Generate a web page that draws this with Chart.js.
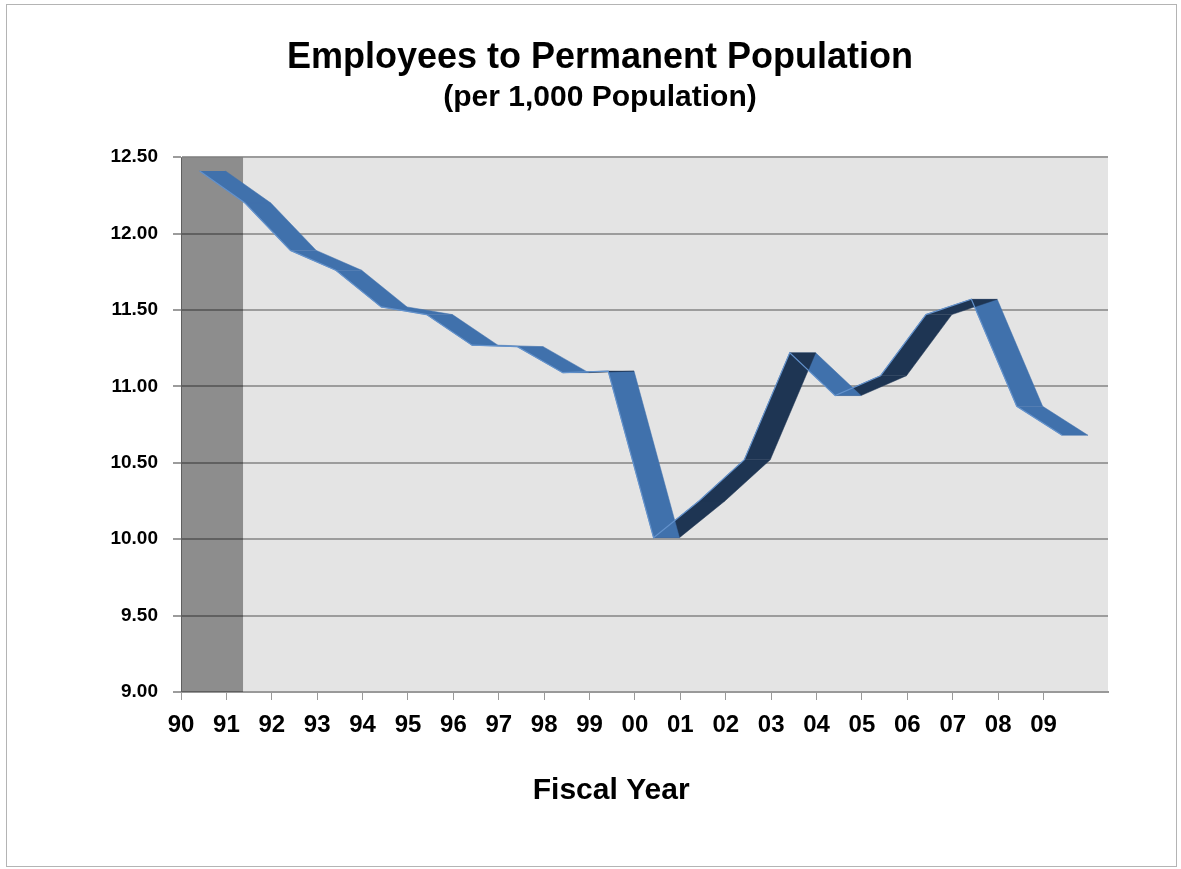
<!DOCTYPE html>
<html>
<head>
<meta charset="utf-8">
<script src="https://cdn.jsdelivr.net/npm/chart.js@4.4.1/dist/chart.umd.min.js"></script>
<style>
  html, body { margin: 0; padding: 0; background: #fff; }
  #wrap { width: 1181px; height: 869px; }
</style>
</head>
<body>
<div id="wrap"><canvas id="chart" width="1181" height="869"></canvas></div>
<script>
// fiscal years (category labels)
const years = ['90', '91', '92', '93', '94', '95', '96', '97', '98', '99',
               '00', '01', '02', '03', '04', '05', '06', '07', '08', '09'];
// employees per 1,000 permanent population
const ratio = [12.41, 12.20, 11.89, 11.76, 11.52, 11.47, 11.27, 11.26, 11.09, 11.10,
               10.01, 10.25, 10.52, 11.22, 10.94, 11.07, 11.47, 11.57, 10.87, 10.68];
const yTicks = [9.00, 9.50, 10.00, 10.50, 11.00, 11.50, 12.00, 12.50];
// shaded span on the category axis (in category units)
const shadedSpan = [0, 1.37];

const FRONT = 0.41;   // 3d ribbon: front edge offset from tick
const DEPTH = 0.57;   // 3d ribbon depth
const LIGHT = '#4071ac';
const DARK = '#1e3553';
const FONT = 'Liberation Sans, Arial, sans-serif';

// ribbon pieces, one quad per step between years
const ribbon = [];
for (let i = 0; i < ratio.length - 1; i++) {
  const a = ratio[i], b = ratio[i + 1];
  ribbon.push({
    data: [
      { x: i + FRONT, y: a },
      { x: i + 1 + FRONT, y: b },
      { x: i + 1 + FRONT + DEPTH, y: b },
      { x: i + FRONT + DEPTH, y: a }
    ],
    fill: 'shape',
    backgroundColor: b > a ? DARK : LIGHT,
    borderColor: b > a ? DARK : LIGHT,
    borderWidth: 0.5,
    pointRadius: 0,
    tension: 0,
    order: 0
  });
}

const frontEdge = {
  data: ratio.map((v, i) => ({ x: i + FRONT, y: v })),
  fill: false,
  borderColor: '#6392cc',
  borderWidth: 1.2,
  pointRadius: 0,
  tension: 0,
  order: 0
};

const band = {
  data: [{ x: shadedSpan[0], y: yTicks[yTicks.length - 1] }, { x: shadedSpan[1], y: yTicks[yTicks.length - 1] }],
  fill: 'start',
  backgroundColor: 'rgba(0,0,0,0.38)',
  borderWidth: 0,
  pointRadius: 0,
  order: 1
};

const chromePlugin = {
  id: 'chrome',
  beforeDraw(chart) {
    const { ctx, chartArea: a } = chart;
    ctx.save();
    ctx.fillStyle = '#fff';
    ctx.fillRect(0, 0, chart.width, chart.height);
    ctx.strokeStyle = '#b4b4b4';
    ctx.lineWidth = 1;
    ctx.strokeRect(6.5, 4.5, 1170, 862);
    ctx.fillStyle = '#e4e4e4';
    ctx.fillRect(a.left, a.top, a.right - a.left, a.bottom - a.top);
    ctx.restore();
  }
};

new Chart(document.getElementById('chart'), {
  type: 'line',
  data: { datasets: [frontEdge, ...ribbon, band] },
  plugins: [chromePlugin],
  options: {
    responsive: false,
    animation: false,
    layout: { padding: { left: 92, right: 73, top: 0, bottom: 0 } },
    plugins: {
      legend: { display: false },
      tooltip: { enabled: false },
      title: {
        display: true,
        text: 'Employees to Permanent Population',
        color: '#000',
        font: { family: FONT, size: 36, weight: 'bold' },
        padding: { top: 36, bottom: 0 }
      },
      subtitle: {
        display: true,
        text: '(per 1,000 Population)',
        color: '#000',
        font: { family: FONT, size: 30, weight: 'bold' },
        padding: { top: 1, bottom: 41 }
      }
    },
    scales: {
      x: {
        type: 'linear',
        min: 0,
        max: 20.42,
        afterBuildTicks: s => { s.ticks = years.map((_, i) => ({ value: i })); },
        afterFit: s => { s.height = 177; },
        grid: { drawOnChartArea: false, drawTicks: true, tickLength: 8, color: '#999', lineWidth: 1 },
        border: { display: true, color: '#999', width: 2 },
        ticks: {
          autoSkip: false,
          maxRotation: 0,
          padding: 11,
          color: '#000',
          font: { family: FONT, size: 24, weight: 'bold' },
          callback: (v, i) => years[i]
        },
        title: {
          display: true,
          // trailing spaces nudge the centred title left, as in the original
          text: 'Fiscal Year        ',
          color: '#000',
          font: { family: FONT, size: 30, weight: 'bold' },
          padding: { top: 0, bottom: 60 }
        }
      },
      y: {
        min: yTicks[0],
        max: yTicks[yTicks.length - 1],
        afterBuildTicks: s => { s.ticks = yTicks.map(v => ({ value: v })); },
        afterFit: s => { s.width = 89; },
        grid: { color: '#9c9c9c', lineWidth: 2, tickLength: 8 },
        border: { display: true, color: '#999', width: 1 },
        ticks: {
          padding: 15,
          color: '#000',
          font: { family: FONT, size: 19, weight: 'bold' },
          callback: v => v.toFixed(2)
        }
      }
    }
  }
});
</script>
</body>
</html>
